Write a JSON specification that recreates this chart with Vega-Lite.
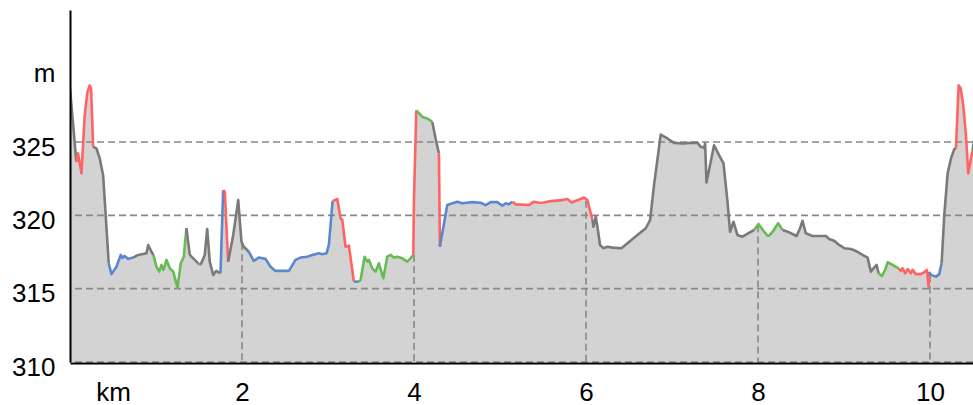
{
"$schema":"https://vega.github.io/schema/vega-lite/v6.json",
"width":903,"height":352,
"autosize":{"type":"none"},
"padding":{"left":70,"top":10,"right":0,"bottom":43},
"background":"white",
"config":{"view":{"stroke":null},"font":"Liberation Sans"},
"datasets":{
"hgrid":[{"m":310},{"m":315},{"m":320},{"m":325}],
"vgrid":[{"km":2,"m":318.1},{"km":4,"m":317.3},{"km":6,"m":321.0},{"km":8,"m":319.3},{"km":10,"m":315.9}],
"profile":[
{"s":1,"c":"gray","km":0.000,"m":328.64},{"s":1,"c":"gray","km":0.074,"m":323.65},
{"s":2,"c":"red","km":0.074,"m":323.65},{"s":2,"c":"red","km":0.094,"m":324.22},{"s":2,"c":"red","km":0.133,"m":322.86},{"s":2,"c":"red","km":0.171,"m":326.82},{"s":2,"c":"red","km":0.202,"m":328.39},{"s":2,"c":"red","km":0.229,"m":328.86},{"s":2,"c":"red","km":0.245,"m":328.66},{"s":2,"c":"red","km":0.269,"m":324.67},
{"s":3,"c":"gray","km":0.269,"m":324.67},{"s":3,"c":"gray","km":0.307,"m":324.56},{"s":3,"c":"gray","km":0.346,"m":323.88},{"s":3,"c":"gray","km":0.385,"m":322.74},{"s":3,"c":"gray","km":0.415,"m":320.02},{"s":3,"c":"gray","km":0.450,"m":316.73},
{"s":4,"c":"blue","km":0.450,"m":316.73},{"s":4,"c":"blue","km":0.482,"m":315.99},{"s":4,"c":"blue","km":0.540,"m":316.50},{"s":4,"c":"blue","km":0.590,"m":317.30},{"s":4,"c":"blue","km":0.610,"m":317.10},{"s":4,"c":"blue","km":0.633,"m":317.23},{"s":4,"c":"blue","km":0.676,"m":317.03},{"s":4,"c":"blue","km":0.734,"m":317.12},
{"s":5,"c":"gray","km":0.734,"m":317.12},{"s":5,"c":"gray","km":0.792,"m":317.30},{"s":5,"c":"gray","km":0.850,"m":317.37},{"s":5,"c":"gray","km":0.889,"m":317.41},{"s":5,"c":"gray","km":0.909,"m":317.98},{"s":5,"c":"gray","km":0.947,"m":317.52},{"s":5,"c":"gray","km":0.970,"m":317.30},
{"s":6,"c":"green","km":0.970,"m":317.30},{"s":6,"c":"green","km":1.005,"m":316.50},{"s":6,"c":"green","km":1.037,"m":316.16},{"s":6,"c":"green","km":1.063,"m":316.62},{"s":6,"c":"green","km":1.087,"m":316.28},{"s":6,"c":"green","km":1.122,"m":316.96},{"s":6,"c":"green","km":1.160,"m":316.39},{"s":6,"c":"green","km":1.200,"m":316.16},{"s":6,"c":"green","km":1.250,"m":315.07},{"s":6,"c":"green","km":1.288,"m":316.73},{"s":6,"c":"green","km":1.323,"m":317.18},{"s":6,"c":"green","km":1.354,"m":319.12},
{"s":7,"c":"gray","km":1.354,"m":319.12},{"s":7,"c":"gray","km":1.393,"m":317.30},{"s":7,"c":"gray","km":1.451,"m":316.96},{"s":7,"c":"gray","km":1.490,"m":316.73},
{"s":8,"c":"green","km":1.490,"m":316.73},{"s":8,"c":"green","km":1.509,"m":316.62},
{"s":9,"c":"gray","km":1.509,"m":316.62},{"s":9,"c":"gray","km":1.529,"m":316.76},{"s":9,"c":"gray","km":1.567,"m":317.30},{"s":9,"c":"gray","km":1.595,"m":319.07},{"s":9,"c":"gray","km":1.625,"m":316.84},{"s":9,"c":"gray","km":1.665,"m":315.94},{"s":9,"c":"gray","km":1.700,"m":316.21},{"s":9,"c":"gray","km":1.750,"m":316.05},
{"s":10,"c":"blue","km":1.750,"m":316.05},{"s":10,"c":"blue","km":1.781,"m":321.72},
{"s":11,"c":"red","km":1.781,"m":321.72},{"s":11,"c":"red","km":1.800,"m":321.59},{"s":11,"c":"red","km":1.839,"m":316.84},
{"s":12,"c":"gray","km":1.839,"m":316.84},{"s":12,"c":"gray","km":1.898,"m":318.66},{"s":12,"c":"gray","km":1.956,"m":321.04},{"s":12,"c":"gray","km":1.994,"m":318.20},{"s":12,"c":"gray","km":2.021,"m":317.86},{"s":12,"c":"gray","km":2.079,"m":317.52},
{"s":13,"c":"blue","km":2.079,"m":317.52},{"s":13,"c":"blue","km":2.137,"m":316.89},{"s":13,"c":"blue","km":2.195,"m":317.12},{"s":13,"c":"blue","km":2.273,"m":317.03},{"s":13,"c":"blue","km":2.332,"m":316.50},{"s":13,"c":"blue","km":2.390,"m":316.21},{"s":13,"c":"blue","km":2.545,"m":316.21},{"s":13,"c":"blue","km":2.622,"m":316.96},{"s":13,"c":"blue","km":2.681,"m":317.12},{"s":13,"c":"blue","km":2.759,"m":317.18},{"s":13,"c":"blue","km":2.817,"m":317.30},{"s":13,"c":"blue","km":2.894,"m":317.41},{"s":13,"c":"blue","km":2.933,"m":317.35},{"s":13,"c":"blue","km":2.983,"m":317.41},{"s":13,"c":"blue","km":3.010,"m":317.98},{"s":13,"c":"blue","km":3.030,"m":319.34},{"s":13,"c":"blue","km":3.053,"m":320.97},
{"s":14,"c":"red","km":3.053,"m":320.97},{"s":14,"c":"red","km":3.108,"m":321.11},{"s":14,"c":"red","km":3.146,"m":319.80},{"s":14,"c":"red","km":3.166,"m":319.68},{"s":14,"c":"red","km":3.204,"m":317.86},{"s":14,"c":"red","km":3.243,"m":317.93},{"s":14,"c":"red","km":3.301,"m":315.48},
{"s":15,"c":"blue","km":3.301,"m":315.48},{"s":15,"c":"blue","km":3.359,"m":315.48},
{"s":16,"c":"green","km":3.359,"m":315.48},{"s":16,"c":"green","km":3.379,"m":315.60},{"s":16,"c":"green","km":3.425,"m":317.18},{"s":16,"c":"green","km":3.457,"m":316.84},{"s":16,"c":"green","km":3.476,"m":316.96},{"s":16,"c":"green","km":3.515,"m":316.39},{"s":16,"c":"green","km":3.553,"m":316.16},{"s":16,"c":"green","km":3.592,"m":316.73},{"s":16,"c":"green","km":3.643,"m":315.71},{"s":16,"c":"green","km":3.689,"m":317.18},{"s":16,"c":"green","km":3.728,"m":317.30},{"s":16,"c":"green","km":3.766,"m":317.12},{"s":16,"c":"green","km":3.806,"m":317.18},{"s":16,"c":"green","km":3.864,"m":317.07},{"s":16,"c":"green","km":3.922,"m":316.84},{"s":16,"c":"green","km":3.960,"m":317.07},{"s":16,"c":"green","km":3.992,"m":317.30},
{"s":17,"c":"red","km":3.992,"m":317.30},{"s":17,"c":"red","km":3.999,"m":320.93},{"s":17,"c":"red","km":4.027,"m":327.16},
{"s":18,"c":"green","km":4.027,"m":327.16},{"s":18,"c":"green","km":4.097,"m":326.71},{"s":18,"c":"green","km":4.155,"m":326.60},{"s":18,"c":"green","km":4.213,"m":326.37},
{"s":19,"c":"gray","km":4.213,"m":326.37},{"s":19,"c":"gray","km":4.251,"m":325.24},{"s":19,"c":"gray","km":4.290,"m":324.22},
{"s":20,"c":"red","km":4.290,"m":324.22},{"s":20,"c":"red","km":4.301,"m":317.86},
{"s":21,"c":"blue","km":4.301,"m":317.86},{"s":21,"c":"blue","km":4.387,"m":320.70},{"s":21,"c":"blue","km":4.446,"m":320.82},{"s":21,"c":"blue","km":4.504,"m":320.93},{"s":21,"c":"blue","km":4.562,"m":320.82},{"s":21,"c":"blue","km":4.678,"m":320.90},{"s":21,"c":"blue","km":4.775,"m":320.86},{"s":21,"c":"blue","km":4.833,"m":320.70},{"s":21,"c":"blue","km":4.891,"m":320.90},{"s":21,"c":"blue","km":4.969,"m":320.90},{"s":21,"c":"blue","km":5.027,"m":320.65},{"s":21,"c":"blue","km":5.066,"m":320.82},{"s":21,"c":"blue","km":5.104,"m":320.75},{"s":21,"c":"blue","km":5.144,"m":320.93},
{"s":22,"c":"red","km":5.144,"m":320.93},{"s":22,"c":"red","km":5.182,"m":320.75},{"s":22,"c":"red","km":5.337,"m":320.70},{"s":22,"c":"red","km":5.395,"m":320.93},{"s":22,"c":"red","km":5.453,"m":320.86},{"s":22,"c":"red","km":5.511,"m":320.88},{"s":22,"c":"red","km":5.589,"m":320.97},{"s":22,"c":"red","km":5.725,"m":321.04},{"s":22,"c":"red","km":5.784,"m":321.11},{"s":22,"c":"red","km":5.834,"m":320.88},{"s":22,"c":"red","km":5.904,"m":321.04},{"s":22,"c":"red","km":5.977,"m":321.22},{"s":22,"c":"red","km":6.016,"m":321.04},{"s":22,"c":"red","km":6.075,"m":319.68},
{"s":23,"c":"gray","km":6.075,"m":319.68},{"s":23,"c":"gray","km":6.086,"m":319.22},{"s":23,"c":"gray","km":6.113,"m":319.90},{"s":23,"c":"gray","km":6.133,"m":319.22},{"s":23,"c":"gray","km":6.163,"m":317.98},{"s":23,"c":"gray","km":6.202,"m":317.76},{"s":23,"c":"gray","km":6.249,"m":317.86},{"s":23,"c":"gray","km":6.311,"m":317.80},{"s":23,"c":"gray","km":6.412,"m":317.76},{"s":23,"c":"gray","km":6.482,"m":318.10},{"s":23,"c":"gray","km":6.598,"m":318.66},{"s":23,"c":"gray","km":6.695,"m":319.12},{"s":23,"c":"gray","km":6.745,"m":319.68},{"s":23,"c":"gray","km":6.791,"m":322.06},{"s":23,"c":"gray","km":6.869,"m":325.51},{"s":23,"c":"gray","km":6.947,"m":325.24},{"s":23,"c":"gray","km":7.024,"m":324.94},{"s":23,"c":"gray","km":7.125,"m":324.90},{"s":23,"c":"gray","km":7.218,"m":324.94},{"s":23,"c":"gray","km":7.296,"m":324.94},{"s":23,"c":"gray","km":7.335,"m":324.67},{"s":23,"c":"gray","km":7.373,"m":324.60},{"s":23,"c":"gray","km":7.385,"m":324.90},{"s":23,"c":"gray","km":7.401,"m":322.24},{"s":23,"c":"gray","km":7.489,"m":324.78},{"s":23,"c":"gray","km":7.547,"m":324.10},{"s":23,"c":"gray","km":7.599,"m":323.54},{"s":23,"c":"gray","km":7.645,"m":320.93},{"s":23,"c":"gray","km":7.675,"m":318.88},{"s":23,"c":"gray","km":7.715,"m":319.56},{"s":23,"c":"gray","km":7.761,"m":318.66},{"s":23,"c":"gray","km":7.820,"m":318.54},{"s":23,"c":"gray","km":7.890,"m":318.78},{"s":23,"c":"gray","km":7.955,"m":319.00},
{"s":24,"c":"green","km":7.955,"m":319.00},{"s":24,"c":"green","km":8.006,"m":319.41},{"s":24,"c":"green","km":8.056,"m":319.00},{"s":24,"c":"green","km":8.111,"m":318.61},{"s":24,"c":"green","km":8.129,"m":318.61},{"s":24,"c":"green","km":8.176,"m":318.93},{"s":24,"c":"green","km":8.234,"m":319.46},{"s":24,"c":"green","km":8.285,"m":319.00},
{"s":25,"c":"gray","km":8.285,"m":319.00},{"s":25,"c":"gray","km":8.362,"m":318.84},{"s":25,"c":"gray","km":8.448,"m":318.59},{"s":25,"c":"gray","km":8.486,"m":319.07},{"s":25,"c":"gray","km":8.518,"m":319.63},{"s":25,"c":"gray","km":8.556,"m":318.78},{"s":25,"c":"gray","km":8.634,"m":318.59},{"s":25,"c":"gray","km":8.789,"m":318.59},{"s":25,"c":"gray","km":8.827,"m":318.39},{"s":25,"c":"gray","km":8.885,"m":318.27},{"s":25,"c":"gray","km":8.944,"m":317.98},{"s":25,"c":"gray","km":9.002,"m":317.76},{"s":25,"c":"gray","km":9.080,"m":317.71},{"s":25,"c":"gray","km":9.138,"m":317.57},{"s":25,"c":"gray","km":9.216,"m":317.30},{"s":25,"c":"gray","km":9.274,"m":317.12},{"s":25,"c":"gray","km":9.312,"m":316.16},{"s":25,"c":"gray","km":9.351,"m":316.44},{"s":25,"c":"gray","km":9.379,"m":316.62},{"s":25,"c":"gray","km":9.402,"m":316.05},
{"s":26,"c":"green","km":9.402,"m":316.05},{"s":26,"c":"green","km":9.441,"m":315.87},{"s":26,"c":"green","km":9.479,"m":316.28},{"s":26,"c":"green","km":9.507,"m":316.80},{"s":26,"c":"green","km":9.565,"m":316.62},{"s":26,"c":"green","km":9.635,"m":316.39},
{"s":27,"c":"red","km":9.635,"m":316.39},{"s":27,"c":"red","km":9.662,"m":316.21},{"s":27,"c":"red","km":9.681,"m":316.39},{"s":27,"c":"red","km":9.712,"m":316.05},{"s":27,"c":"red","km":9.740,"m":316.33},{"s":27,"c":"red","km":9.778,"m":316.05},{"s":27,"c":"red","km":9.798,"m":316.28},{"s":27,"c":"red","km":9.836,"m":315.99},{"s":27,"c":"red","km":9.894,"m":315.99},{"s":27,"c":"red","km":9.933,"m":316.12},{"s":27,"c":"red","km":9.964,"m":316.28},{"s":27,"c":"red","km":9.984,"m":315.14},{"s":27,"c":"red","km":9.991,"m":316.14},
{"s":28,"c":"blue","km":9.991,"m":316.14},{"s":28,"c":"blue","km":10.011,"m":315.94},{"s":28,"c":"blue","km":10.069,"m":315.82},{"s":28,"c":"blue","km":10.107,"m":315.99},{"s":28,"c":"blue","km":10.135,"m":316.73},
{"s":29,"c":"gray","km":10.135,"m":316.73},{"s":29,"c":"gray","km":10.166,"m":320.02},{"s":29,"c":"gray","km":10.205,"m":322.86},{"s":29,"c":"gray","km":10.244,"m":323.88},{"s":29,"c":"gray","km":10.282,"m":324.51},{"s":29,"c":"gray","km":10.302,"m":324.60},
{"s":30,"c":"red","km":10.302,"m":324.60},{"s":30,"c":"red","km":10.333,"m":328.86},{"s":30,"c":"red","km":10.356,"m":328.66},{"s":30,"c":"red","km":10.387,"m":327.50},{"s":30,"c":"red","km":10.418,"m":325.46},{"s":30,"c":"red","km":10.445,"m":322.86},{"s":30,"c":"red","km":10.476,"m":323.88},{"s":30,"c":"red","km":10.496,"m":324.44},
{"s":31,"c":"gray","km":10.496,"m":324.44},{"s":31,"c":"gray","km":10.512,"m":325.12}
]},
"layer":[
{"data":{"name":"profile"},
 "mark":{"type":"area","color":"#d3d3d3","clip":true,"interpolate":"linear"},
 "encoding":{
  "x":{"field":"km","type":"quantitative","scale":{"domain":[0,10.5],"nice":false,"zero":false},
       "axis":{"values":[0.5,2,4,6,8,10],"labelExpr":"datum.value == 0.5 ? 'km' : format(datum.value, 'd')","title":null,"grid":false,"ticks":false,"domainColor":"black","domainWidth":2,"labelFontSize":26,"labelFont":"Liberation Sans","labelColor":"black","labelPadding":16,"labelOverlap":false,"labelFlush":false,"offset":1,"zindex":1}},
  "y":{"field":"m","type":"quantitative","scale":{"domain":[310,334],"nice":false,"zero":false},
       "axis":{"values":[310,315,320,325,330],"labelExpr":"datum.value == 330 ? 'm' : format(datum.value, 'd')","title":null,"grid":false,"ticks":false,"domainColor":"black","domainWidth":2,"labelFontSize":26,"labelFont":"Liberation Sans","labelColor":"black","labelPadding":15,"labelBaseline":"middle","labelOffset":5,"labelOverlap":false,"labelFlush":false,"zindex":1}},
  "y2":{"datum":310}
 }},
{"data":{"name":"hgrid"},
 "mark":{"type":"rule","color":"#888888","strokeWidth":1.6,"strokeDash":[7,4]},
 "encoding":{"y":{"field":"m","type":"quantitative"}}},
{"data":{"name":"vgrid"},
 "mark":{"type":"rule","color":"#888888","strokeWidth":1.6,"strokeDash":[7,4]},
 "encoding":{"x":{"field":"km","type":"quantitative"},"y":{"field":"m","type":"quantitative"},"y2":{"datum":310}}},
{"data":{"name":"profile"},
 "mark":{"type":"line","strokeWidth":2.6,"clip":true,"strokeJoin":"round","strokeCap":"butt"},
 "encoding":{
  "x":{"field":"km","type":"quantitative"},
  "y":{"field":"m","type":"quantitative"},
  "detail":{"field":"s","type":"nominal"},
  "color":{"field":"c","type":"nominal","legend":null,"scale":{"domain":["gray","red","blue","green"],"range":["#7a7a7a","#ff6363","#5b87cf","#67bb52"]}}
 }}
]
}
